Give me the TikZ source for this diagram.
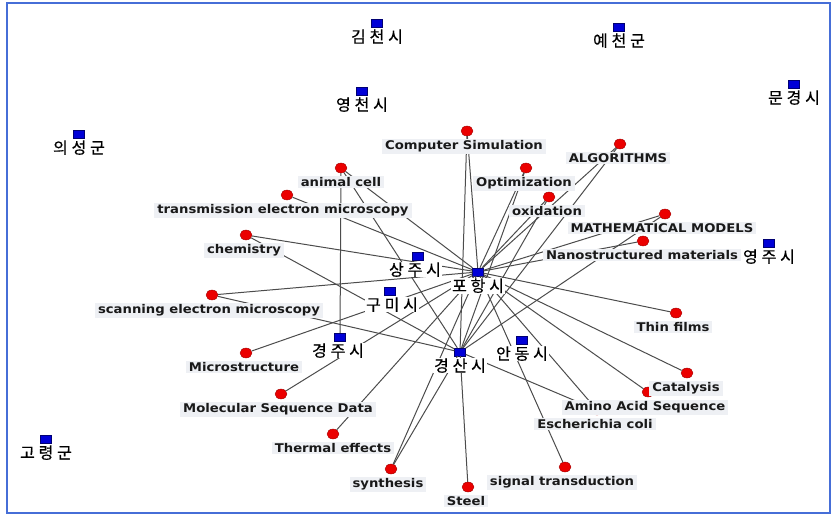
\documentclass[tikz,border=0pt]{standalone}
\usepackage{fontspec}
\usetikzlibrary{positioning,shapes.geometric}
\newfontfamily\keyfont{DejaVu Sans}[FakeStretch=1.1]
\newfontfamily\krfont{Noto Sans CJK KR}[LetterSpace=24,FakeBold=0.6]
\definecolor{frameblue}{RGB}{70,110,215}
\definecolor{sqblue}{RGB}{0,0,215}
\definecolor{dotred}{RGB}{235,0,0}
\definecolor{keybg}{RGB}{238,240,244}
\tikzset{
  region/.style={rectangle, draw=blue!45!black, fill=sqblue, minimum width=11pt, minimum height=8pt, inner sep=0pt},
  keyword/.style={ellipse, draw=red!60!black, fill=dotred, minimum width=12pt, minimum height=10pt, inner sep=0pt},
  keylabel/.style={fill=keybg, inner xsep=3pt, inner ysep=1.5pt, font=\keyfont\bfseries\fontsize{12}{14}\selectfont, text=black!90},
  reglabel/.style={fill=white, inner xsep=1pt, inner ysep=0.5pt, font=\krfont\fontsize{16}{18}\selectfont},
  link/.style={draw=black!70, line width=1pt}
}
\begin{document}
\begin{tikzpicture}[x=1pt,y=-1pt]
  \useasboundingbox (0,0) rectangle (838,524);
  \draw[frameblue, line width=1.5pt] (7,3) rectangle (830,513);
  % regions
  \path
    (377,23) node[region] (gimcheon){}
    (619,27) node[region] (yecheon){}
    (794,84) node[region] (mungyeong){}
    (362,91) node[region] (yeongcheon){}
    (79,134) node[region] (uiseong){}
    (769,243) node[region] (yeongju){}
    (418,256) node[region] (sangju){}
    (478,272) node[region] (pohang){}
    (390,291) node[region] (gumi){}
    (340,337) node[region] (gyeongju){}
    (460,352) node[region] (gyeongsan){}
    (522,340) node[region] (andong){}
    (46,439) node[region] (goryeong){};
  % keywords
  \path
    (467,131) node[keyword] (cs){}
    (341,168) node[keyword] (animal){}
    (620,144) node[keyword] (algo){}
    (526,168) node[keyword] (optim){}
    (287,195) node[keyword] (tem){}
    (549,197) node[keyword] (oxid){}
    (665,214) node[keyword] (mm){}
    (246,235) node[keyword] (chem){}
    (643,241) node[keyword] (nano){}
    (212,295) node[keyword] (sem){}
    (676,313) node[keyword] (thin){}
    (246,353) node[keyword] (micro){}
    (648,392) node[keyword] (aas){}
    (687,373) node[keyword] (cata){}
    (281,394) node[keyword] (msd){}
    (597,410) node[keyword] (ecoli){}
    (333,434) node[keyword] (thermal){}
    (391,469) node[keyword] (synth){}
    (565,467) node[keyword] (signal){}
    (468,487) node[keyword] (steel){};
  \begin{scope}[link]
    \draw (pohang) to (cs);
    \draw (pohang) to (animal);
    \draw (pohang) to (tem);
    \draw (pohang) to (chem);
    \draw (pohang) to (sem);
    \draw (pohang) to (optim);
    \draw (pohang) to (oxid);
    \draw (pohang) to (algo);
    \draw (pohang) to (mm);
    \draw (pohang) to (nano);
    \draw (pohang) to (thin);
    \draw (pohang) to (cata);
    \draw (pohang) to (aas);
    \draw (pohang) to (ecoli);
    \draw (pohang) to (signal);
    \draw (pohang) to (synth);
    \draw (pohang) to (thermal);
    \draw (pohang) to (msd);
    \draw (pohang) to (micro);
    \draw (gyeongsan) to (cs);
    \draw (gyeongsan) to (animal);
    \draw (gyeongsan) to (chem);
    \draw (gyeongsan) to (sem);
    \draw (gyeongsan) to (optim);
    \draw (gyeongsan) to (oxid);
    \draw (gyeongsan) to (algo);
    \draw (gyeongsan) to (mm);
    \draw (gyeongsan) to (ecoli);
    \draw (gyeongsan) to (steel);
    \draw (gyeongsan) to (synth);
    \draw (gyeongju) to (animal);
  \end{scope}
  % keyword labels
  \node[keylabel, below=2.5pt of cs, xshift=-3pt] (cs-t) {Computer Simulation};
  \node[keylabel, below=2.5pt of animal] (animal-t) {animal cell};
  \node[keylabel, below=2.5pt of algo, xshift=-2pt] (algo-t) {ALGORITHMS};
  \node[keylabel, below=2.5pt of optim, xshift=-2pt] (optim-t) {Optimization};
  \node[keylabel, below=2.5pt of tem, xshift=-4pt] (tem-t) {transmission electron microscopy};
  \node[keylabel, below=2.5pt of oxid, xshift=-2pt] (oxid-t) {oxidation};
  \node[keylabel, below=2.5pt of mm, xshift=-3pt] (mm-t) {MATHEMATICAL MODELS};
  \node[keylabel, below=2.5pt of chem, xshift=-2pt] (chem-t) {chemistry};
  \node[keylabel, below=2.5pt of nano, xshift=-1pt] (nano-t) {Nanostructured materials};
  \node[keylabel, below=2.5pt of sem, xshift=-3pt] (sem-t) {scanning electron microscopy};
  \node[keylabel, below=2.5pt of thin, xshift=-3pt] (thin-t) {Thin films};
  \node[keylabel, below=2.5pt of micro, xshift=-2pt] (micro-t) {Microstructure};
  \node[keylabel, below=2.5pt of aas, xshift=-3pt] (aas-t) {Amino Acid Sequence};
  \node[keylabel, below=2.5pt of cata, xshift=-1pt] (cata-t) {Catalysis};
  \node[keylabel, below=2.5pt of msd, xshift=-3pt] (msd-t) {Molecular Sequence Data};
  \node[keylabel, below=2.5pt of ecoli, xshift=-2pt] (ecoli-t) {Escherichia coli};
  \node[keylabel, below=2.5pt of thermal] (thermal-t) {Thermal effects};
  \node[keylabel, below=2.5pt of synth, xshift=-3pt] (synth-t) {synthesis};
  \node[keylabel, below=2.5pt of signal, xshift=-3pt] (signal-t) {signal transduction};
  \node[keylabel, below=2.5pt of steel, xshift=-2pt] (steel-t) {Steel};
  % region labels
  \node[reglabel, below=1.5pt of gimcheon] (gimcheon-t) {김천시};
  \node[reglabel, below=1.5pt of yecheon] (yecheon-t) {예천군};
  \node[reglabel, below=1.5pt of mungyeong] (mungyeong-t) {문경시};
  \node[reglabel, below=1.5pt of yeongcheon] (yeongcheon-t) {영천시};
  \node[reglabel, below=1.5pt of uiseong] (uiseong-t) {의성군};
  \node[reglabel, below=1.5pt of yeongju] (yeongju-t) {영주시};
  \node[reglabel, below=1.5pt of sangju, xshift=-3pt] (sangju-t) {상주시};
  \node[reglabel, below=1.5pt of pohang] (pohang-t) {포항시};
  \node[reglabel, below=1.5pt of gumi, xshift=2pt] (gumi-t) {구미시};
  \node[reglabel, below=1.5pt of gyeongju, xshift=-2pt] (gyeongju-t) {경주시};
  \node[reglabel, below=1.5pt of gyeongsan] (gyeongsan-t) {경산시};
  \node[reglabel, below=1.5pt of andong] (andong-t) {안동시};
  \node[reglabel, below=1.5pt of goryeong] (goryeong-t) {고령군};
\end{tikzpicture}
\end{document}
